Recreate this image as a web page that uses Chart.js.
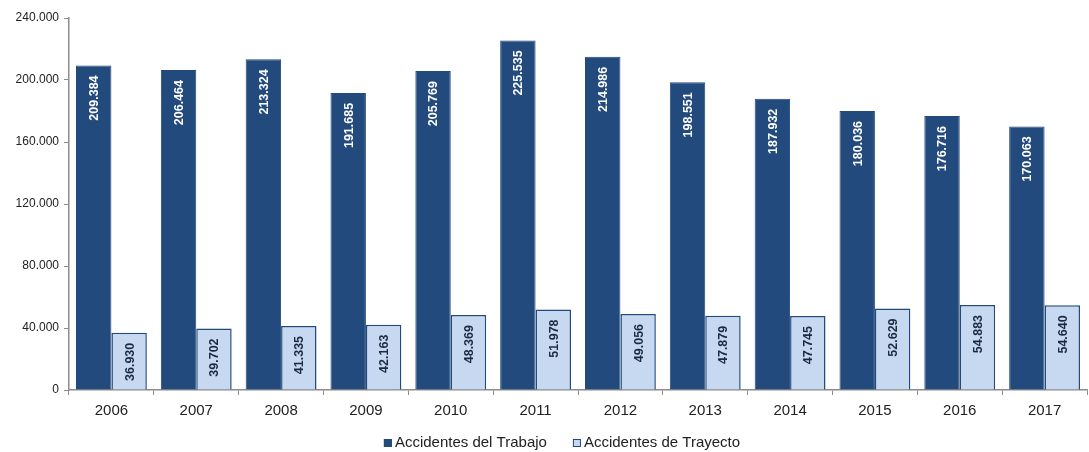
<!DOCTYPE html>
<html>
<head>
<meta charset="utf-8">
<script src="https://cdn.jsdelivr.net/npm/chart.js@4.4.0/dist/chart.umd.min.js"></script>
<style>
  html, body { margin: 0; padding: 0; background: #ffffff; }
  #wrap { width: 1089px; height: 452px; position: relative; }
</style>
</head>
<body>
<div id="wrap"><canvas id="chart"></canvas></div>
<script>
const YEARS = ['2006', '2007', '2008', '2009', '2010', '2011', '2012', '2013', '2014', '2015', '2016', '2017'];
const TRABAJO = [209384, 206464, 213324, 191685, 205769, 225535, 214986, 198551, 187932, 180036, 176716, 170063];
const TRAYECTO = [36930, 39702, 41335, 42163, 48369, 51978, 49056, 47879, 47745, 52629, 54883, 54640];

const DARK = '#224a7d';
const LIGHT = '#c6d9f1';
const AXIS = '#8c8c8c';
const FONT = '"Liberation Sans", Arial, sans-serif';

function fmt(v) {
  return v.toLocaleString('de-DE');
}

// vertical value labels near the top of each bar
const barLabels = {
  id: 'barLabels',
  afterDatasetsDraw(chart) {
    const ctx = chart.ctx;
    ctx.save();
    ctx.font = 'bold 12.5px ' + FONT;
    ctx.textAlign = 'right';
    ctx.textBaseline = 'middle';
    chart.data.datasets.forEach((ds, i) => {
      const meta = chart.getDatasetMeta(i);
      meta.data.forEach((bar, j) => {
        ctx.save();
        ctx.translate(bar.x + 1, bar.y + 10);
        ctx.rotate(-Math.PI / 2);
        ctx.fillStyle = i === 0 ? '#ffffff' : '#1b2a40';
        ctx.fillText(fmt(ds.data[j]), 0, 0);
        ctx.restore();
      });
    });
    ctx.restore();
  }
};

// compact legend under the axis: small square right next to the text
const bottomLegend = {
  id: 'bottomLegend',
  afterDraw(chart) {
    const ctx = chart.ctx;
    const y = 443;
    const box = 8, gap = 3, between = 26;
    ctx.save();
    ctx.font = '15px ' + FONT;
    ctx.textBaseline = 'middle';
    const items = chart.data.datasets.map(ds => ({
      ds, w: box + gap + ctx.measureText(ds.label).width
    }));
    const total = items.reduce((s, it) => s + it.w, 0) + between * (items.length - 1);
    let x = 562 - total / 2;
    items.forEach(it => {
      ctx.fillStyle = it.ds.backgroundColor;
      ctx.strokeStyle = it.ds.borderColor;
      ctx.lineWidth = 1;
      ctx.fillRect(x, y - box / 2, box, box);
      ctx.strokeRect(x + 0.5, y - box / 2 + 0.5, box - 1, box - 1);
      ctx.fillStyle = '#222222';
      ctx.fillText(it.ds.label, x + box + gap, y);
      x += it.w + between;
    });
    ctx.restore();
  }
};

new Chart(document.getElementById('chart'), {
  type: 'bar',
  data: {
    labels: YEARS,
    datasets: [
      {
        label: 'Accidentes del Trabajo',
        data: TRABAJO,
        backgroundColor: DARK,
        borderColor: DARK,
        borderWidth: 1
      },
      {
        label: 'Accidentes de Trayecto',
        data: TRAYECTO,
        backgroundColor: LIGHT,
        borderColor: DARK,
        borderWidth: 1.5
      }
    ]
  },
  options: {
    responsive: true,
    maintainAspectRatio: false,
    animation: false,
    layout: { padding: { top: 18, right: 2, left: 0, bottom: 24 } },
    datasets: {
      bar: { categoryPercentage: 0.835, barPercentage: 1 }
    },
    scales: {
      x: {
        afterFit(scale) { scale.height = 38; },
        grid: {
          offset: true,
          drawOnChartArea: false,
          tickLength: 5,
          color: AXIS
        },
        border: { color: AXIS, width: 1.5 },
        ticks: {
          color: '#222222',
          font: { family: FONT, size: 15 },
          padding: 7
        }
      },
      y: {
        min: 0,
        max: 240000,
        afterFit(scale) { scale.width = 69; },
        grid: {
          drawOnChartArea: false,
          tickLength: 5,
          color: AXIS
        },
        border: { color: AXIS, width: 1.5 },
        ticks: {
          stepSize: 40000,
          color: '#222222',
          font: { family: FONT, size: 12 },
          padding: 5,
          callback: v => fmt(v)
        }
      }
    },
    plugins: {
      legend: { display: false },
      tooltip: { enabled: false }
    }
  },
  plugins: [barLabels, bottomLegend]
});
</script>
</body>
</html>
